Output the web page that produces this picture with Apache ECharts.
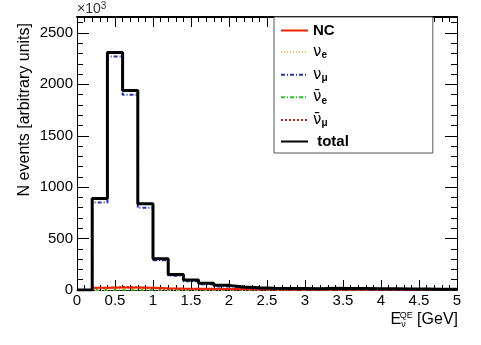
<!DOCTYPE html>
<html>
<head>
<meta charset="utf-8">
<style>
html, body { margin: 0; padding: 0; background: #fff; }
#main { width: 481px; height: 345px; }
</style>
<script src="https://cdn.jsdelivr.net/npm/echarts@6/dist/echarts.min.js"></script>
</head>
<body>
<div id="main"></div>
<script>
// bin lower edges, width 0.2 GeV (values in units of 10^3)
var binEdges = [0, 0.2, 0.4, 0.6, 0.8, 1.0, 1.2, 1.4, 1.6, 1.8, 2.0, 2.2, 2.4, 2.6, 2.8,
	3.0, 3.2, 3.4, 3.6, 3.8, 4.0, 4.2, 4.4, 4.6, 4.8];
var xEnd = 5;

var totalVals = [0, 890, 2310, 1940, 840, 305, 150, 97, 65, 45, 30, 22, 18, 15, 14,
	13, 16, 15, 14, 12, 11, 10, 9, 8, 7];
var numuVals = [0, 850, 2270, 1900, 800, 290, 138, 85, 55, 35, 20, 13, 10, 8, 7,
	6, 8, 7, 6, 5, 5, 4, 4, 3, 3];
var ncVals = [0, 22, 25, 24, 22, 18, 15, 13, 11, 10, 9, 8, 7, 6, 6,
	6, 6, 6, 5, 5, 5, 4, 4, 4, 3];
var nueVals = [0, 6, 9, 8, 6, 4, 3, 3, 2, 2, 2, 2, 1, 1, 1,
	1, 1, 1, 1, 1, 1, 1, 1, 1, 1];
var anueVals = [0, 2, 3, 3, 2, 1, 1, 1, 1, 1, 1, 0, 0, 0, 0,
	0, 0, 0, 0, 0, 0, 0, 0, 0, 0];
var anumuVals = [0, 20, 30, 26, 18, 10, 8, 6, 5, 4, 3, 3, 2, 2, 2,
	2, 2, 2, 2, 2, 1, 1, 1, 1, 1];

var yTicks = [0, 500, 1000, 1500, 2000, 2500];
var xTicks = [0, 0.5, 1, 1.5, 2, 2.5, 3, 3.5, 4, 4.5, 5];

// histogram -> step points
function toSteps(vals) {
	var pts = [];
	for (var i = 0; i < binEdges.length; i++) {
		pts.push([binEdges[i], vals[i]]);
	}
	pts.push([xEnd, vals[vals.length - 1]]);
	return pts;
}

var legendLabels = {
	'NC': '{b|NC}',
	'nue': '{g|ν}{s|e}',
	'numu': '{g|ν}{s|μ}',
	'anue': '{g|ν̄}{s|e}',
	'anumu': '{g|ν̄}{s|μ}',
	'total': ' {b|total}'
};

function histSeries(name, vals, color, width, type, z) {
	return {
		name: name,
		type: 'line',
		step: 'end',
		symbol: 'none',
		showSymbol: false,
		animation: false,
		z: z,
		lineStyle: { color: color, width: width, type: type },
		itemStyle: { color: color },
		data: toSteps(vals)
	};
}

var font = 'Liberation Sans, Arial, Helvetica, sans-serif';

var myChart = echarts.init(document.getElementById('main'));

myChart.setOption({
	animation: false,
	backgroundColor: '#fff',
	grid: { left: 77, right: 24, top: 17, bottom: 55 },
	legend: {
		orient: 'vertical',
		left: 274,
		top: 17,
		padding: [6, 84, 4, 6],
		itemGap: 5.6,
		itemWidth: 27,
		itemHeight: 16,
		backgroundColor: '#fff',
		borderColor: '#555',
		borderWidth: 1,
		itemStyle: { opacity: 0, borderWidth: 0 },
		data: ['NC', 'nue', 'numu', 'anue', 'anumu', 'total'],
		formatter: function (name) { return legendLabels[name]; },
		textStyle: {
			fontFamily: font,
			fontSize: 15,
			color: '#000',
			rich: {
				b: { fontFamily: font, fontSize: 15, fontWeight: 'bold', lineHeight: 16 },
				g: { fontFamily: 'DejaVu Sans', fontSize: 15, lineHeight: 16 },
				s: { fontFamily: font, fontSize: 10, fontWeight: 'bold', lineHeight: 16, padding: [7, 0, 0, 0] }
			}
		}
	},
	xAxis: [{
		type: 'value',
		min: 0,
		max: 5,
		interval: 0.5,
		position: 'bottom',
		axisLine: { show: true, onZero: false, lineStyle: { color: '#000', width: 1 } },
		axisTick: { show: true, inside: true, length: 10, lineStyle: { color: '#000' } },
		minorTick: { show: true, splitNumber: 5, length: 5, lineStyle: { color: '#000' } },
		splitLine: { show: false },
		axisLabel: {
			color: '#000', fontFamily: font, fontSize: 15, margin: 3,
			formatter: function (v) { return xTicks.indexOf(v) >= 0 ? String(v) : ''; }
		}
	}, {
		type: 'value',
		min: 0,
		max: 5,
		interval: 0.5,
		position: 'top',
		axisLine: { show: true, onZero: false, lineStyle: { color: '#000', width: 2 } },
		axisTick: { show: true, inside: true, length: 10, lineStyle: { color: '#000' } },
		minorTick: { show: true, splitNumber: 5, length: 5, lineStyle: { color: '#000' } },
		splitLine: { show: false },
		axisLabel: { show: false }
	}],
	yAxis: [{
		type: 'value',
		min: 0,
		max: 2655,
		interval: 500,
		position: 'left',
		axisLine: { show: true, onZero: false, lineStyle: { color: '#000', width: 1 } },
		axisTick: { show: true, inside: true, length: 12, lineStyle: { color: '#000' } },
		minorTick: { show: true, splitNumber: 5, length: 6, lineStyle: { color: '#000' } },
		splitLine: { show: false },
		axisLabel: {
			color: '#000', fontFamily: font, fontSize: 15, margin: 4, showMaxLabel: false,
			formatter: function (v) { return yTicks.indexOf(v) >= 0 ? String(v) : ''; }
		}
	}, {
		type: 'value',
		min: 0,
		max: 2655,
		interval: 500,
		position: 'right',
		axisLine: { show: true, onZero: false, lineStyle: { color: '#000', width: 1 } },
		axisTick: { show: true, inside: true, length: 12, lineStyle: { color: '#000' } },
		minorTick: { show: true, splitNumber: 5, length: 6, lineStyle: { color: '#000' } },
		splitLine: { show: false },
		axisLabel: { show: false }
	}],
	graphic: [{
		type: 'text',
		left: 77,
		top: 1,
		style: {
			text: '×10{p|3}',
			fontFamily: font,
			fontSize: 14,
			fill: '#333',
			rich: { p: { fontSize: 10, fontFamily: font, fill: '#333', padding: [0, 0, 6, 0] } }
		}
	}, {
		type: 'text',
		x: 25,
		y: 23,
		rotation: Math.PI / 2,
		style: {
			text: 'N events [arbitrary units]',
			fontFamily: font,
			fontSize: 16,
			fill: '#000',
			align: 'right',
			verticalAlign: 'middle'
		}
	}, {
		type: 'text',
		right: 23,
		top: 311,
		style: {
			text: 'E{sub|ν}{sup|QE} [GeV]',
			fontFamily: font,
			fontSize: 16,
			fill: '#000',
			rich: {
				sub: { fontFamily: font, fontSize: 9, fill: '#000', padding: [9, 0, 0, 0] },
				sup: { fontFamily: font, fontSize: 9, fill: '#000', padding: [0, 0, 9, -6] }
			}
		}
	}],
	series: [
		histSeries('anue', anueVals, '#22cc22', 2, [4, 2, 1, 2], 3),
		histSeries('nue', nueVals, '#ffbb55', 2, [1, 2], 3),
		histSeries('anumu', anumuVals, '#aa2211', 2, [2, 2], 4),
		histSeries('NC', ncVals, '#ee2200', 2, 'solid', 4),
		histSeries('numu', numuVals, '#2233bb', 2, [4, 2, 1, 2], 5),
		histSeries('total', totalVals, '#000', 3, 'solid', 6)
	]
});
</script>
</body>
</html>
